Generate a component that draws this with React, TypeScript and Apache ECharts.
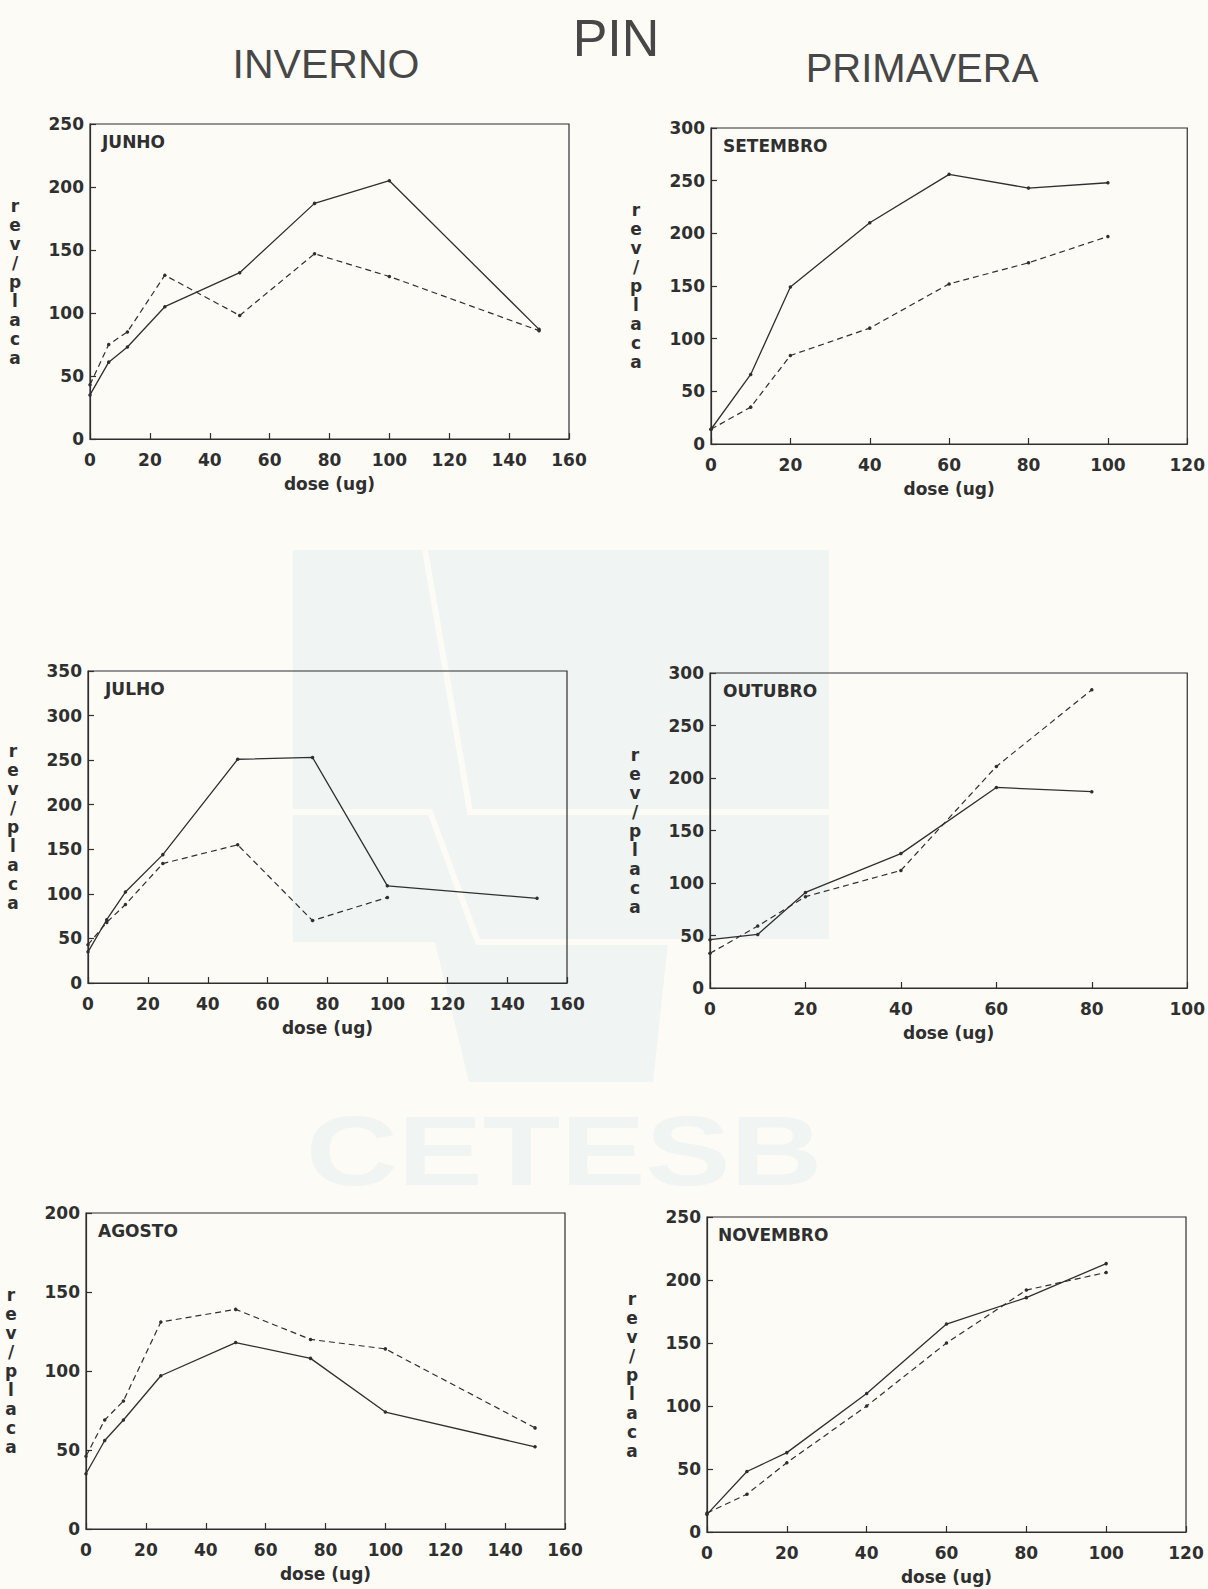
import React, { useEffect, useRef } from "react";
import * as echarts from "echarts";

// ---------- data ----------
const monthNames = ["JUNHO", "SETEMBRO", "JULHO", "OUTUBRO", "AGOSTO", "NOVEMBRO"];

const junhoX = [0, 6.25, 12.5, 25, 50, 75, 100, 150];
const junhoSolid = [35, 61, 73, 105, 132, 187, 205, 87];
const junhoDashed = [43, 75, 85, 130, 98, 147, 129, 86];

const setembroX = [0, 10, 20, 40, 60, 80, 100];
const setembroSolid = [14, 66, 149, 210, 256, 243, 248];
const setembroDashed = [14, 35, 84, 110, 152, 172, 197];

const julhoX = [0, 6.25, 12.5, 25, 50, 75, 100, 150];
const julhoSolid = [35, 71, 102, 144, 251, 253, 109, 95];
const julhoDashed = [43, 68, 88, 134, 155, 70, 96];

const outubroX = [0, 10, 20, 40, 60, 80];
const outubroSolid = [46, 51, 91, 128, 191, 187];
const outubroDashed = [33, 59, 87, 112, 211, 284];

const agostoX = [0, 6.25, 12.5, 25, 50, 75, 100, 150];
const agostoSolid = [35, 56, 69, 97, 118, 108, 74, 52];
const agostoDashed = [46, 69, 81, 131, 139, 120, 114, 64];

const novembroX = [0, 10, 20, 40, 60, 80, 100];
const novembroSolid = [14, 48, 63, 110, 165, 186, 213];
const novembroDashed = [15, 30, 55, 100, 150, 192, 206];

const xMaxes = [160, 120, 160, 100, 160, 120];
const yMaxes = [250, 300, 350, 300, 200, 250];

const mainTitle = "PIN";
const leftTitle = "INVERNO";
const rightTitle = "PRIMAVERA";
const watermarkText = "CETESB";
const xName = "dose (ug)";
const yName = "r\ne\nv\n/\np\nl\na\nc\na";

// ---------- layout ----------
const grids = [
  { left: 90, top: 124, width: 479, height: 315, labelDx: 12 },
  { left: 711, top: 128, width: 479, height: 316, labelDx: 12 },
  { left: 88, top: 671, width: 479, height: 312, labelDx: 17 },
  { left: 710, top: 673, width: 479, height: 315, labelDx: 13 },
  { left: 86, top: 1213, width: 479, height: 316, labelDx: 12 },
  { left: 707, top: 1217, width: 479, height: 315, labelDx: 11 },
];

const INK = "#2f2f2f";
const BG = "#fcfbf6";
const WM = "#f0f4f2";
const FONT = '"DejaVu Sans", "Liberation Sans", sans-serif';
const TITLE_FONT = '"Liberation Sans", Arial, sans-serif';

const panels = [
  { x: junhoX, solid: junhoSolid, dashed: junhoDashed },
  { x: setembroX, solid: setembroSolid, dashed: setembroDashed },
  { x: julhoX, solid: julhoSolid, dashed: julhoDashed },
  { x: outubroX, solid: outubroSolid, dashed: outubroDashed },
  { x: agostoX, solid: agostoSolid, dashed: agostoDashed },
  { x: novembroX, solid: novembroSolid, dashed: novembroDashed },
];

function buildOption() {
  const grid = grids.map((g) => ({
    left: g.left,
    top: g.top,
    width: g.width,
    height: g.height,
    show: true,
    borderColor: INK,
    borderWidth: 1.2,
    backgroundColor: "transparent",
    containLabel: false,
  }));

  const labelStyle = {
    color: INK,
    fontFamily: FONT,
    fontWeight: "bold" as const,
    fontSize: 17,
  };

  const xAxis = grids.map((_, i) => ({
    gridIndex: i,
    type: "value",
    min: 0,
    max: xMaxes[i],
    interval: 20,
    axisLine: { show: true, onZero: false, lineStyle: { color: INK, width: 1.2 } },
    axisTick: { show: true, inside: true, length: 6, lineStyle: { color: INK, width: 1.2 } },
    axisLabel: { ...labelStyle, margin: 12 },
    splitLine: { show: false },
    name: xName,
    nameLocation: "middle",
    nameGap: 45,
    nameTextStyle: { ...labelStyle, verticalAlign: "middle" },
  }));

  const yAxis = grids.map((_, i) => ({
    gridIndex: i,
    type: "value",
    min: 0,
    max: yMaxes[i],
    interval: 50,
    axisLine: { show: true, onZero: false, lineStyle: { color: INK, width: 1.2 } },
    axisTick: { show: true, inside: true, length: 6, lineStyle: { color: INK, width: 1.2 } },
    axisLabel: { ...labelStyle, margin: 6 },
    splitLine: { show: false },
    name: yName,
    nameLocation: "middle",
    nameRotate: 0,
    nameGap: 75,
    nameTextStyle: {
      ...labelStyle,
      align: "center",
      verticalAlign: "middle",
      lineHeight: 19,
    },
  }));

  const series: any[] = [];
  panels.forEach((p, i) => {
    series.push({
      type: "line",
      xAxisIndex: i,
      yAxisIndex: i,
      data: p.x.map((v, k) => [v, p.solid[k]]),
      symbol: "circle",
      symbolSize: 3.5,
      silent: true,
      lineStyle: { color: INK, width: 1.3, type: "solid" },
      itemStyle: { color: INK },
    });
    series.push({
      type: "line",
      xAxisIndex: i,
      yAxisIndex: i,
      data: p.x.slice(0, p.dashed.length).map((v, k) => [v, p.dashed[k]]),
      symbol: "circle",
      symbolSize: 3.5,
      silent: true,
      lineStyle: { color: INK, width: 1.2, type: [6, 4] },
      itemStyle: { color: INK },
    });
  });

  const graphic: any[] = [
    // faint watermark (CETESB logo printed on the scanned page)
    { type: "rect", z: -10, shape: { x: 293, y: 550, width: 536, height: 392 }, style: { fill: WM } },
    {
      type: "polygon",
      z: -10,
      shape: { points: [[435, 942], [668, 942], [653, 1082], [469, 1082]] },
      style: { fill: WM },
    },
    {
      type: "polyline",
      z: -9,
      shape: { points: [[425, 550], [470, 812], [829, 812]] },
      style: { stroke: BG, lineWidth: 6, fill: "none" },
    },
    {
      type: "polyline",
      z: -9,
      shape: { points: [[293, 812], [430, 812], [478, 942], [829, 942]] },
      style: { stroke: BG, lineWidth: 6, fill: "none" },
    },
    {
      type: "text",
      z: -10,
      x: 564,
      y: 1151,
      scaleX: 1.3,
      style: {
        text: watermarkText,
        font: `bold 98px ${TITLE_FONT}`,
        fill: WM,
        align: "center",
        verticalAlign: "middle",
      },
    },
    // titles
    {
      type: "text",
      x: 616,
      y: 38,
      style: { text: mainTitle, font: `52px ${TITLE_FONT}`, fill: "#474747", align: "center", verticalAlign: "middle" },
    },
    {
      type: "text",
      x: 326,
      y: 64,
      style: { text: leftTitle, font: `41px ${TITLE_FONT}`, fill: "#474747", align: "center", verticalAlign: "middle" },
    },
    {
      type: "text",
      x: 922,
      y: 68,
      style: { text: rightTitle, font: `40px ${TITLE_FONT}`, fill: "#474747", align: "center", verticalAlign: "middle" },
    },
  ];

  grids.forEach((g, i) => {
    graphic.push({
      type: "text",
      x: g.left + g.labelDx,
      y: g.top + 18,
      style: {
        text: monthNames[i],
        font: `bold 17px ${FONT}`,
        fill: INK,
        align: "left",
        verticalAlign: "middle",
      },
    });
  });

  return {
    animation: false,
    backgroundColor: BG,
    grid,
    xAxis,
    yAxis,
    series,
    graphic,
  };
}

export default function App() {
  const ref = useRef<HTMLDivElement>(null);
  useEffect(() => {
    if (!ref.current) return;
    const chart = echarts.init(ref.current, null, { renderer: "svg" });
    chart.setOption(buildOption() as any);
    return () => chart.dispose();
  }, []);
  return (
    <div
      ref={ref}
      style={{ position: "absolute", left: 0, top: 0, width: 1208, height: 1589 }}
    />
  );
}
